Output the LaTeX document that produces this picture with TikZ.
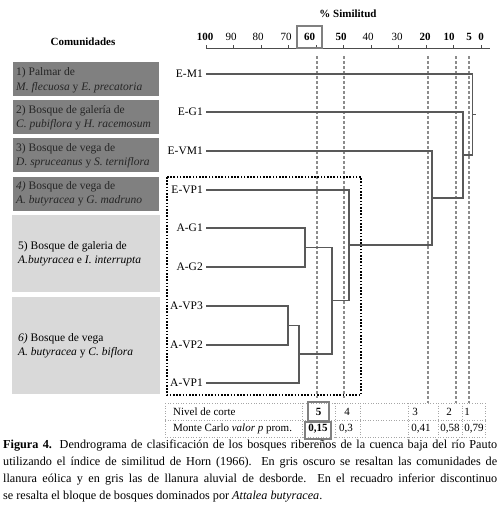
\documentclass[tikz,border=0pt]{standalone}
\usepackage{fontspec}
\setmainfont{Liberation Serif}
\begin{document}
\begin{tikzpicture}[x=1pt,y=-1pt,
  dend/.style={draw=black!65, line width=1.3pt},
  cutline/.style={draw=black!45, line width=1.1pt, dash pattern=on 2.5pt off 2.5pt},
  leaf/.style={anchor=east, inner xsep=3pt, inner ysep=0pt, font=\fontsize{11.5}{13}\selectfont},
  axlab/.style={font=\fontsize{11}{13}\selectfont, inner sep=0pt},
  darkbox/.style={fill=black!50, draw=none},
  lightbox/.style={fill=black!15, draw=none},
  boxtxt/.style={anchor=west, inner sep=0pt, font=\fontsize{11.5}{13}\selectfont, text=black!85},
  tabline/.style={draw=black!35, line width=0.6pt, dotted},
  hibox/.style={draw=black!50, line width=1.6pt},
  cell/.style={font=\fontsize{11}{13}\selectfont, inner sep=0pt}
]
\useasboundingbox (0,0) rectangle (500,514);

% headers
\node[font=\bfseries\fontsize{11}{13}\selectfont] (hsim) at (348,14) {\% Similitud};
\node[font=\bfseries\fontsize{11}{13}\selectfont] (hcom) at (83,42) {Comunidades};

% axis
\draw[black!70, line width=0.9pt] (206,48) -- (490,48);
\foreach \s in {0,10,...,100} {
  \draw[black!70, line width=0.9pt] ({481-2.75*\s},48) -- ({481-2.75*\s},44.5);
}
\node[axlab,font=\bfseries\fontsize{11}{13}\selectfont] (a100) at (205,37) {100};
\node[axlab] (a90) at (231,37) {90};
\node[axlab] (a80) at (258,37) {80};
\node[axlab] (a70) at (286,37) {70};
\node[axlab,font=\bfseries\fontsize{11}{13}\selectfont] (a60) at (309.5,37) {60};
\node[axlab,font=\bfseries\fontsize{11}{13}\selectfont] (a50) at (341,37) {50};
\node[axlab] (a40) at (368,37) {40};
\node[axlab] (a30) at (397,37) {30};
\node[axlab,font=\bfseries\fontsize{11}{13}\selectfont] (a20) at (425,37) {20};
\node[axlab,font=\bfseries\fontsize{11}{13}\selectfont] (a10) at (449,37) {10};
\node[axlab,font=\bfseries\fontsize{11}{13}\selectfont] (a5) at (469,37) {5};
\node[axlab,font=\bfseries\fontsize{11}{13}\selectfont] (a0) at (481,37) {0};
\draw[hibox] (297,26) rectangle (322,48);

% community boxes
\fill[darkbox] (13,62) rectangle (159,96);
\fill[darkbox] (13,100) rectangle (159,134);
\fill[darkbox] (13,138) rectangle (159,172);
\fill[darkbox] (13,177) rectangle (159,211);
\fill[lightbox] (12,215) rectangle (160,292);
\fill[lightbox] (12,297) rectangle (160,394);

\node[boxtxt] (b1a) at (16,73) {1) Palmar de};
\node[boxtxt] (b1b) at (16,88) {\textit{M. flecuosa} y \textit{E. precatoria}};
\node[boxtxt] (b2a) at (16,111) {2) Bosque de galería de};
\node[boxtxt] (b2b) at (16,125) {\textit{C. pubiflora} y \textit{H. racemosum}};
\node[boxtxt] (b3a) at (16,149) {3) Bosque de vega de};
\node[boxtxt] (b3b) at (16,163) {\textit{D. spruceanus} y \textit{S. terniflora}};
\node[boxtxt] (b4a) at (16,187) {\textit{4)} Bosque de vega de};
\node[boxtxt] (b4b) at (16,201) {\textit{A. butyracea} y \textit{G. madruno}};
\node[boxtxt,text=black] (b5a) at (18,247) {5) Bosque de galeria de};
\node[boxtxt,text=black] (b5b) at (18,261) {\textit{A.butyracea} e \textit{I. interrupta}};
\node[boxtxt,text=black] (b6a) at (18,339) {\textit{6)} Bosque de vega};
\node[boxtxt,text=black] (b6b) at (18,353) {\textit{A. butyracea} y \textit{C. biflora}};

% cut lines
\foreach \x/\yb in {317/398,344/398,428/403,456/403,469/403} {
  \draw[cutline] (\x,56) -- (\x,\yb);
}

% dotted block
\draw[black, line width=1.6pt, dash pattern=on 1.6pt off 1.6pt] (167,177) rectangle (361,395);

% leaves
\node[leaf] (EM1) at (206,74) {E-M1};
\node[leaf] (EG1) at (206,112) {E-G1};
\node[leaf] (EVM1) at (206,151) {E-VM1};
\node[leaf] (EVP1) at (206,190) {E-VP1};
\node[leaf] (AG1) at (206,228) {A-G1};
\node[leaf] (AG2) at (206,267) {A-G2};
\node[leaf] (AVP3) at (206,306) {A-VP3};
\node[leaf] (AVP2) at (206,345) {A-VP2};
\node[leaf] (AVP1) at (206,383) {A-VP1};

% joins
\coordinate (jG) at (305,247.5);
\coordinate (jV32) at (288,325.5);
\coordinate (jV) at (299,354);
\coordinate (jA) at (332,300.75);
\coordinate (jE) at (349,245);
\coordinate (jVM) at (432,198);
\coordinate (jG1) at (463,155);
\coordinate (jM) at (472.5,114.5);
\coordinate (root) at (476,114.5);

\draw[dend] (AG1.east) -| (jG) |- (AG2.east);
\draw[dend] (AVP3.east) -| (jV32) |- (AVP2.east);
\draw[dend] (jV32) -| (jV) |- (AVP1.east);
\draw[dend] (jG) -| (jA) |- (jV);
\draw[dend] (EVP1.east) -| (jE) |- (jA);
\draw[dend] (EVM1.east) -| (jVM) |- (jE);
\draw[dend] (EG1.east) -| (jG1) |- (jVM);
\draw[dend] (EM1.east) -| (jM) |- (jG1);
\draw[dend] (jM) -- (root);

% table
\draw[tabline] (165,403) rectangle (485,437);
\draw[tabline] (165,420) -- (485,420);
\foreach \x in {302,335,360,408,438,462} {
  \draw[tabline] (\x,403) -- (\x,437);
}
\node[cell,anchor=west] (t1) at (173,412) {Nivel de corte};
\node[cell,anchor=west] (t2) at (173,429) {Monte Carlo \textit{valor p} prom.};
\node[cell,font=\bfseries\fontsize{11}{13}\selectfont] (c5) at (318.5,412) {5};
\node[cell] (c4) at (347,412) {4};
\node[cell] (c3) at (415,412) {3};
\node[cell] (c2) at (449,412) {2};
\node[cell] (c1) at (467,412) {1};
\node[cell,font=\bfseries\fontsize{11}{13}\selectfont] (v5) at (318,429) {0,15};
\node[cell] (v4) at (346,429) {0,3};
\node[cell] (v3) at (421,429) {0,41};
\node[cell] (v2) at (450,429) {0,58};
\node[cell] (v1) at (474,429) {0,79};
\draw[hibox] (308,402) rectangle (329,421);
\draw[hibox] (305,422) rectangle (331,439);

% caption
\node[anchor=north west, inner sep=0pt, text width=494pt, align=justify,
      font=\fontsize{12.2}{17}\selectfont] (cap) at (3,440)
  {\hyphenpenalty=10000 \exhyphenpenalty=10000 \textbf{Figura 4.} Dendrograma de clasificación de los bosques ribereños de la cuenca baja del río Pauto\linebreak utilizando el índice de similitud de Horn (1966). En gris oscuro se resaltan las comunidades de\linebreak llanura eólica y en gris las de llanura aluvial de desborde. En el recuadro inferior discontinuo\linebreak se resalta el bloque de bosques dominados por \textit{Attalea butyracea}.};
\end{tikzpicture}
\end{document}
